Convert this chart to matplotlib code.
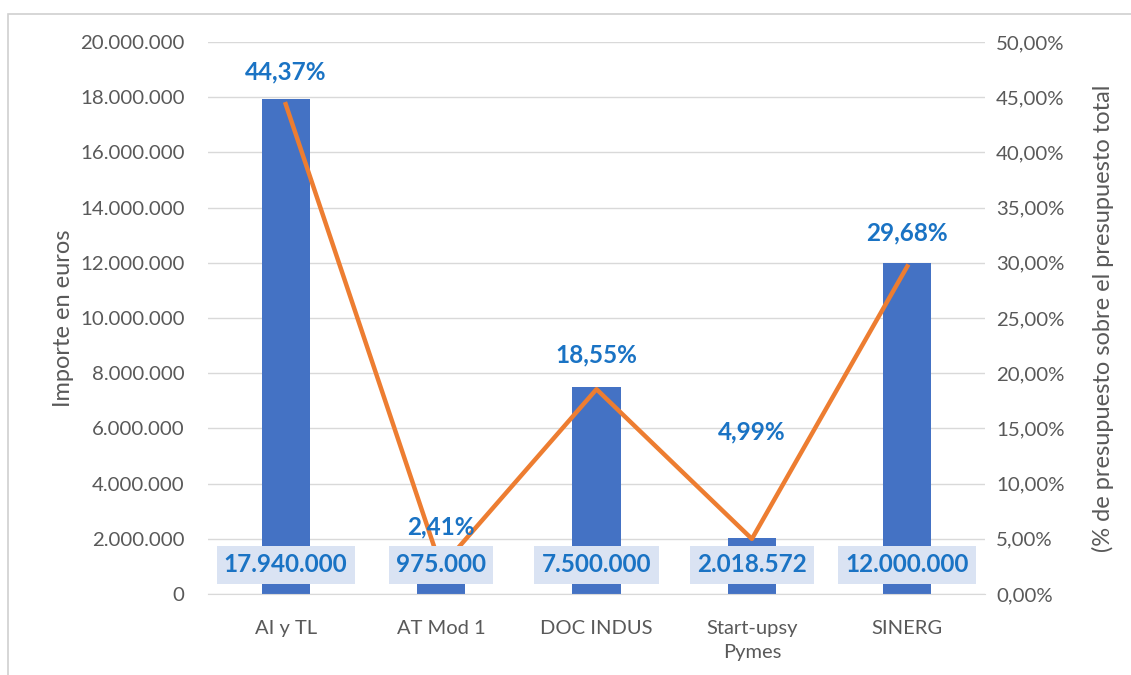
import matplotlib.pyplot as plt
from matplotlib.patches import Rectangle
from matplotlib.ticker import FuncFormatter

plt.rcParams['font.family'] = ['Lato', 'DejaVu Sans']

# Data
categories = ['AI y TL', 'AT Mod 1', 'DOC INDUS', 'Start-upsy\nPymes', 'SINERG']
amounts = [17940000, 975000, 7500000, 2018572, 12000000]
amount_labels = ['17.940.000', '975.000', '7.500.000', '2.018.572', '12.000.000']
shares = [44.37, 2.41, 18.55, 4.99, 29.68]
share_labels = ['44,37%', '2,41%', '18,55%', '4,99%', '29,68%']

bar_color = '#4472c4'
line_color = '#ed7d31'
label_blue = '#1a73c4'
tick_grey = '#595959'

fig = plt.figure(figsize=(11.31, 6.75), dpi=100)
ax = fig.add_axes([208 / 1131, 81 / 675, 777 / 1131, 552 / 675])
ax2 = ax.twinx()

# outer frame like the Excel chart area
fig.patches.append(Rectangle((8 / 1131, -0.1), 1.2, (675 - 14) / 675 + 0.1,
                             transform=fig.transFigure, fill=False,
                             edgecolor='#d0d0d0', linewidth=1.2))

x = list(range(len(categories)))
ax.bar(x, amounts, width=0.31, color=bar_color, zorder=2)
ax.set_ylim(0, 20000000)
ax.set_yticks(range(0, 20000001, 2000000))
ax.yaxis.set_major_formatter(FuncFormatter(lambda v, p: f'{int(v):,}'.replace(',', '.')))
ax.set_xlim(-0.5, len(categories) - 0.5)
ax.set_xticks(x)
ax.set_xticklabels(categories, fontsize=14.5, color=tick_grey, linespacing=1.45)
ax.grid(axis='y', color='#d9d9d9', linewidth=1, zorder=0)
ax.set_axisbelow(True)
ax.tick_params(axis='y', length=0, pad=17, labelsize=14.7, labelcolor=tick_grey)
ax.tick_params(axis='x', length=0, pad=19)
for s in ['top', 'right', 'left']:
    ax.spines[s].set_visible(False)
ax.spines['bottom'].set_color('#d9d9d9')
ax.set_ylabel('Importe en euros', fontsize=17, color=tick_grey, labelpad=4)

ax2.plot(x, shares, color=line_color, linewidth=3.2, zorder=3)
ax2.set_ylim(0, 50)
ax2.set_yticks(range(0, 51, 5))
ax2.yaxis.set_major_formatter(FuncFormatter(lambda v, p: f'{v:.2f}%'.replace('.', ',')))
ax2.tick_params(axis='y', length=0, pad=8, labelsize=14.7, labelcolor=tick_grey)
for s in ax2.spines.values():
    s.set_visible(False)
ax2.set_ylabel('(% de presupuesto sobre el presupuesto total', fontsize=17,
               color=tick_grey, labelpad=20)

# percentage labels above the line points
share_offsets = [23, 29, 25, 77, 24]
for xi, v, t, off in zip(x, shares, share_labels, share_offsets):
    ax2.annotate(t, (xi, v), xytext=(0, off), textcoords='offset points',
                 ha='center', va='center', fontsize=17.5, fontweight='bold',
                 color=label_blue, zorder=5)

# amount labels in boxes near the base
for xi, t in zip(x, amount_labels):
    ax2.annotate(t, (xi, 0), xycoords=ax.transData, xytext=(0, 21),
                 textcoords='offset points', ha='center', va='center',
                 fontsize=17.5, fontweight='bold', color=label_blue, zorder=6,
                 bbox=dict(boxstyle='square,pad=0.3', facecolor='#dae3f3',
                           edgecolor='none'))

fig.savefig('out.png', dpi=100)
